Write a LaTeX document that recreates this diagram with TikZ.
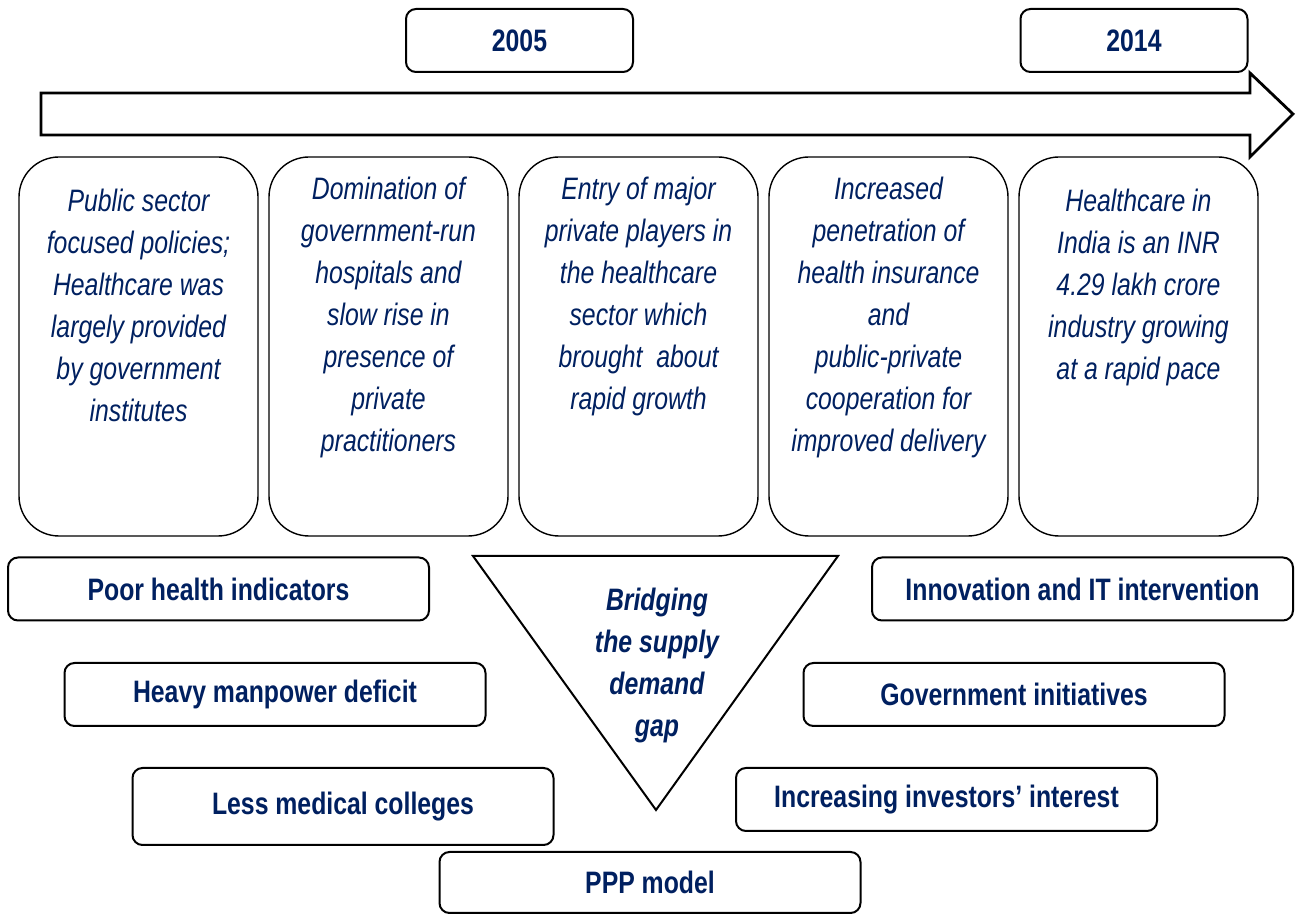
\documentclass[tikz,border=0pt]{standalone}
\usepackage{fontspec}
\setmainfont{Liberation Sans}[FakeStretch=0.8]
\usepackage{tikz}
\usetikzlibrary{positioning}
\definecolor{navytext}{RGB}{0, 32, 96}
\newcommand{\boxfont}{\fontsize{15.5pt}{21pt}\selectfont}

\begin{document}
\begin{tikzpicture}[
    x=0.5pt, y=-0.5pt,
    node distance=4.8pt,
    year/.style={draw, fill=white, line width=1pt, rounded corners=5pt, minimum width=113.5pt, minimum height=31.5pt, font=\boxfont\bfseries, text=navytext},
    era/.style={draw, line width=0.7pt, rounded corners=20pt, minimum width=119.5pt, minimum height=189.5pt},
    eratext/.style={inner sep=0pt, align=center, font=\boxfont\itshape, text=navytext},
    factor/.style={draw, fill=white, line width=1pt, rounded corners=5pt, minimum width=210.5pt, minimum height=31.5pt, font=\boxfont\bfseries, text=navytext},
    timeline/.style={draw, line width=1.4pt, line join=miter}
]
    \useasboundingbox (0,0) rectangle (1298,914);

    % Timeline arrow
    \draw[timeline] (41,93) -- (1250,93) -- (1250,73) -- (1293,114) -- (1250,157) -- (1250,135) -- (41,135) -- cycle;

    % Years
    \node[year] (y2005) at (519.5,40.5) {2005};
    \node[year] (y2014) at (1134,40.5) {2014};

    % Eras
    \node[era] (era1) at (138.5,346.5) {};
    \node[era, right=of era1] (era2) {};
    \node[era, right=of era2] (era3) {};
    \node[era, right=of era3] (era4) {};
    \node[era, right=of era4] (era5) {};

    \node[eratext, below=12.8pt of era1.north] (txt1) {\strut Public sector\\focused policies;\\Healthcare was\\largely provided\\by government\\institutes};
    \node[eratext, below=6.8pt of era2.north] (txt2) {\strut Domination of\\government-run\\hospitals and\\slow rise in\\presence of\\private\\practitioners};
    \node[eratext, below=6.8pt of era3.north] (txt3) {\strut Entry of major\\private players in\\the healthcare\\sector which\\brought\ \ about\\rapid growth};
    \node[eratext, below=6.8pt of era4.north] (txt4) {\strut Increased\\penetration of\\health insurance\\and\\public-private\\cooperation for\\improved delivery};
    \node[eratext, below=12.8pt of era5.north] (txt5) {\strut Healthcare in\\India is an INR\\4.29 lakh crore\\industry growing\\at a rapid pace};

    % Gap triangle
    \coordinate (gapL) at (473,556);
    \coordinate (gapR) at (838,556);
    \coordinate (gapB) at (656,810);
    \draw[line width=1pt, line join=miter] (gapL) -- (gapR) -- (gapB) -- cycle;
    \node[eratext, font=\boxfont\bfseries\itshape, anchor=north] (gap) at (657,580.6) {\strut Bridging\\the supply\\demand\\gap};

    % Factors - left
    \node[factor] (poor) at (218.5,589) {Poor health indicators};
    \node[factor] (manpower) at (275,694.5) {Heavy manpower deficit};
    \node[factor, minimum height=38.5pt] (colleges) at (343,806.5) {Less medical colleges};
    \node[factor, minimum height=30.5pt] (ppp) at (650,882.5) {PPP model};

    % Factors - right
    \node[factor] (innovation) at (1082.5,589) {Innovation and IT intervention};
    \node[factor] (govt) at (1014,694.5) {Government initiatives};
    \node[factor] (investors) at (946.5,799.5) {Increasing investors’ interest};
\end{tikzpicture}
\end{document}
